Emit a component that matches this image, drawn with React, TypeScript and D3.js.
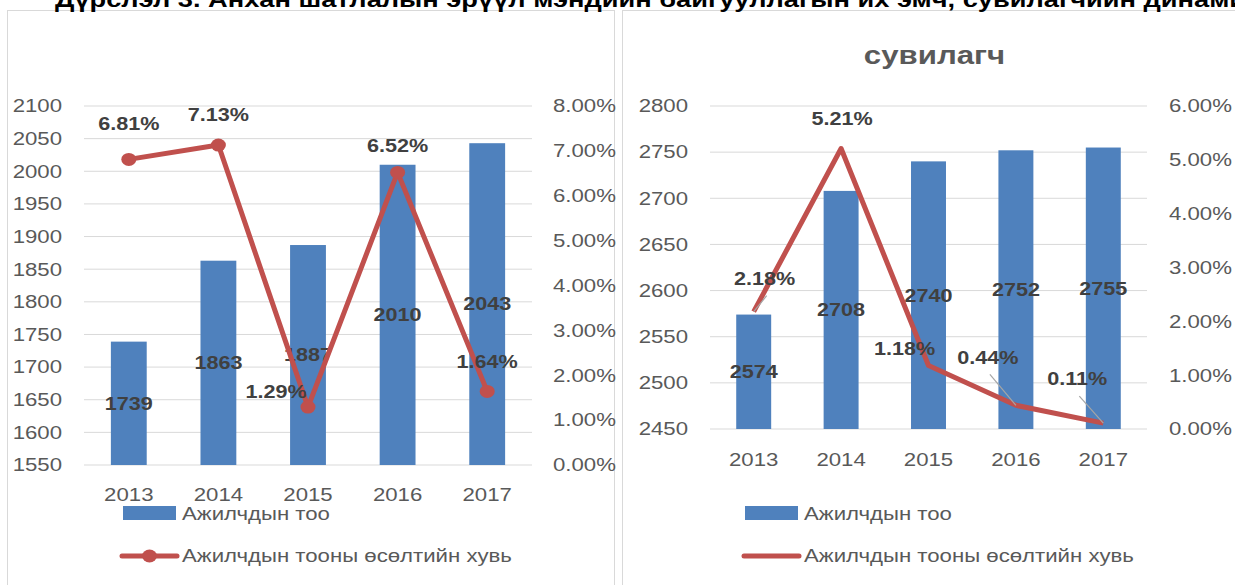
import React from 'react';
import * as d3 from 'd3';

// chart values
const years = ['2013', '2014', '2015', '2016', '2017'];
const doctorCount = [1739, 1863, 1887, 2010, 2043];
const doctorGrowth = [6.81, 7.13, 1.29, 6.52, 1.64];
const nurseCount = [2574, 2708, 2740, 2752, 2755];
const nurseGrowth = [2.18, 5.21, 1.18, 0.44, 0.11];

const countName = 'Ажилчдын тоо';
const growthName = 'Ажилчдын тооны өсөлтийн хувь';
const pageTitle = 'Дүрслэл 3. Анхан шатлалын эрүүл мэндийн байгууллагын их эмч, сувилагчийн динамик';
const nurseTitle = 'сувилагч';

// label placement (dx, dy from the point) and leader lines
const doctorLabelOffsets = [[0, -36], [0, -30], [-32, -15], [0, -27], [0, -30]];
const nurseLabelOffsets = [[11, -33], [1, -30], [-24, -17], [-28, -48], [-26, -44]];
const nurseLeaders = [true, false, false, true, true];

const BLUE = '#4F81BD';
const RED = '#C0504D';
const GRID = '#D9D9D9';
const AXIS_TXT = '#595959';
const LABEL_TXT = '#404040';
const FONT = "'Liberation Sans', Arial, sans-serif";
const SX = 1.2; // the source picture is stretched sideways

const T: React.FC<{
  x: number; y: number; size?: number; bold?: boolean; anchor?: string; fill?: string; base?: string;
  children: React.ReactNode;
}> = ({ x, y, size = 18.5, bold, anchor = 'middle', fill = AXIS_TXT, base = 'central', children }) => (
  <text
    transform={`translate(${x},${y}) scale(${SX},1)`}
    fontSize={size}
    fontWeight={bold ? 'bold' : 'normal'}
    textAnchor={anchor}
    dominantBaseline={base}
    fill={fill}
    fontFamily={FONT}
  >
    {children}
  </text>
);

interface PanelProps {
  counts: number[];
  growth: number[];
  yDomain: [number, number];
  pctMax: number;
  xRange: [number, number];
  yRange: [number, number];
  leftLabelX: number;
  rightLabelX: number;
  catLabelY: number;
  legendX: number;
  markers: boolean;
  offsets: number[][];
  leaders?: boolean[];
  title?: string;
}

const Panel: React.FC<PanelProps> = (p) => {
  const x = d3.scaleBand<string>().domain(years).range(p.xRange);
  const y = d3.scaleLinear().domain(p.yDomain).range(p.yRange);
  const yp = d3.scaleLinear().domain([0, p.pctMax]).range(p.yRange);
  const cx = (i: number) => (x(years[i]) || 0) + x.bandwidth() / 2;
  const barW = x.bandwidth() * 0.4;
  const yTicks = d3.range(p.yDomain[0], p.yDomain[1] + 1, 50);
  const pTicks = d3.range(0, p.pctMax + 1, 1);

  const line = d3.line<number>()
    .x((d, i) => cx(i))
    .y(d => yp(d));

  const lgX0 = p.legendX;
  const lgX1 = p.legendX + 53;

  return (
    <g>
      {yTicks.map(t => (
        <line key={'g' + t} x1={p.xRange[0]} x2={p.xRange[1]} y1={y(t)} y2={y(t)} stroke={GRID} strokeWidth={1} />
      ))}
      {yTicks.map(t => (
        <T key={'yl' + t} x={p.leftLabelX} y={y(t)} anchor="end">{t}</T>
      ))}
      {pTicks.map(t => (
        <T key={'pl' + t} x={p.rightLabelX} y={yp(t)} anchor="start">{t.toFixed(2) + '%'}</T>
      ))}
      {years.map((yr, i) => (
        <T key={'c' + yr} x={cx(i)} y={p.catLabelY}>{yr}</T>
      ))}

      {p.counts.map((v, i) => (
        <rect key={'b' + i} x={cx(i) - barW / 2} y={y(v)} width={barW} height={y(p.yDomain[0]) - y(v)} fill={BLUE} />
      ))}
      {p.counts.map((v, i) => (
        <T key={'bl' + i} x={cx(i)} y={(y(v) + y(p.yDomain[0])) / 2} size={18} bold fill={LABEL_TXT}>{v}</T>
      ))}

      <path d={line(p.growth) || ''} fill="none" stroke={RED} strokeWidth={5} strokeLinejoin="round" />
      {p.markers && p.growth.map((v, i) => (
        <ellipse key={'m' + i} cx={cx(i)} cy={yp(v)} rx={7.5} ry={6.5} fill={RED} />
      ))}
      {p.leaders && p.growth.map((v, i) => p.leaders![i] ? (
        <line key={'ld' + i}
          x1={cx(i) + p.offsets[i][0] + 2} y1={yp(v) + p.offsets[i][1] + 17}
          x2={cx(i)} y2={yp(v)} stroke="#A6A6A6" strokeWidth={1.2} />
      ) : null)}
      {p.growth.map((v, i) => (
        <T key={'gl' + i} x={cx(i) + p.offsets[i][0]} y={yp(v) + p.offsets[i][1]} size={18} bold fill={LABEL_TXT}>
          {v.toFixed(2) + '%'}
        </T>
      ))}

      {p.title && (
        <T x={(p.xRange[0] + p.xRange[1]) / 2 + 6} y={55} size={26} bold>{p.title}</T>
      )}

      <rect x={lgX0} y={506} width={lgX1 - lgX0} height={14} fill={BLUE} />
      <T x={lgX1 + 6} y={514} anchor="start">{countName}</T>
      <line x1={lgX0 - 1} x2={lgX1 + 1} y1={556} y2={556} stroke={RED} strokeWidth={5} strokeLinecap="round" />
      {p.markers && <ellipse cx={(lgX0 + lgX1) / 2} cy={556} rx={7.5} ry={6.5} fill={RED} />}
      <T x={lgX1 + 6} y={556} anchor="start">{growthName}</T>
    </g>
  );
};

export default function App() {
  return (
    <svg width={1235} height={585} style={{ position: 'absolute', left: 0, top: 0, background: '#fff' }}>
      <rect x={0} y={0} width={1235} height={585} fill="#fff" />
      <rect x={7.5} y={10.5} width={607} height={600} fill="#fff" stroke={GRID} />
      <rect x={622.5} y={10.5} width={620} height={600} fill="#fff" stroke={GRID} />
      <T x={55} y={7} size={22.7} bold anchor="start" fill="#000" base="auto">{pageTitle}</T>
      <Panel
        counts={doctorCount}
        growth={doctorGrowth}
        yDomain={[1550, 2100]}
        pctMax={8}
        xRange={[84, 532]}
        yRange={[465, 106]}
        leftLabelX={62}
        rightLabelX={553}
        catLabelY={495}
        legendX={123}
        markers
        offsets={doctorLabelOffsets}
      />
      <Panel
        counts={nurseCount}
        growth={nurseGrowth}
        yDomain={[2450, 2800]}
        pctMax={6}
        xRange={[710, 1147]}
        yRange={[429, 106]}
        leftLabelX={688}
        rightLabelX={1169}
        catLabelY={460}
        legendX={745}
        markers={false}
        offsets={nurseLabelOffsets}
        leaders={nurseLeaders}
        title={nurseTitle}
      />
    </svg>
  );
}
